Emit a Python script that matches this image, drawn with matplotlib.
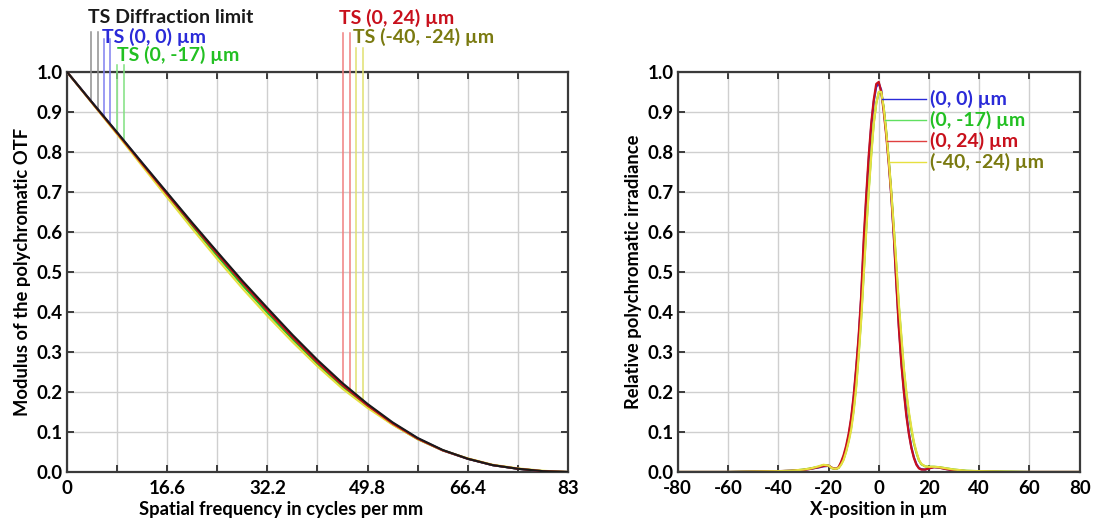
import numpy as np
import matplotlib
matplotlib.use("Agg")
import matplotlib.pyplot as plt

# ---- MTF data (left) ----
freq = [0, 4.15, 8.3, 12.45, 16.6, 20.75, 24.9, 29.05, 33.2, 37.35, 41.5,
        45.65, 49.8, 53.95, 58.1, 62.25, 66.4, 70.55, 74.7, 78.85, 83]
mtf_diff = [1.0, 0.924, 0.849, 0.773, 0.698, 0.623, 0.550, 0.478, 0.410, 0.343, 0.280,
            0.222, 0.170, 0.124, 0.085, 0.055, 0.033, 0.017, 0.008, 0.002, 0.0]
mtf_00 = [1.0, 0.924, 0.848, 0.772, 0.696, 0.621, 0.548, 0.476, 0.407, 0.340, 0.277,
          0.219, 0.168, 0.122, 0.084, 0.054, 0.033, 0.017, 0.008, 0.002, 0.0]
mtf_0m17 = [1.0, 0.923, 0.846, 0.768, 0.691, 0.615, 0.540, 0.467, 0.398, 0.332, 0.270,
            0.213, 0.163, 0.119, 0.082, 0.054, 0.033, 0.017, 0.008, 0.002, 0.0]
mtf_024 = [1.0, 0.923, 0.847, 0.770, 0.694, 0.619, 0.545, 0.473, 0.404, 0.337, 0.274,
           0.217, 0.166, 0.121, 0.083, 0.054, 0.033, 0.017, 0.008, 0.002, 0.0]
mtf_m40m24 = [1.0, 0.922, 0.844, 0.765, 0.686, 0.608, 0.532, 0.459, 0.390, 0.325, 0.264,
              0.208, 0.160, 0.118, 0.082, 0.054, 0.034, 0.018, 0.009, 0.003, 0.0]

freq_ticks = [0, 8.3, 16.6, 24.9, 33.2, 41.5, 49.8, 58.1, 66.4, 74.7, 83]
freq_ticklabels = ["0", "", "16.6", "", "32.2", "", "49.8", "", "66.4", "", "83"]

# marker line positions (cycles/mm) for each field
mark_diff = [4.0, 5.1]
mark_00 = [6.1, 7.2]
mark_0m17 = [8.3, 9.4]
mark_024 = [45.7, 46.9]
mark_m40m24 = [47.8, 49.0]

# ---- PSF data (right) ----
xpos = [-80, -60, -50, -40, -35, -30, -27, -24, -22, -20, -18.5, -17, -16, -15, -14,
        -13, -12, -11, -10, -9, -8, -7, -6, -5, -4, -3, -2, -1, 0, 1, 2, 3, 4, 5, 6,
        7, 8, 9, 10, 11, 12, 13, 14, 15, 16, 17, 18.5, 20, 22, 24, 27, 30, 35, 40,
        50, 60, 80]
psf_00 = [0, 0, 0.001, 0.002, 0.003, 0.005, 0.008, 0.011, 0.014, 0.015, 0.010, 0.008,
          0.011, 0.022, 0.038, 0.060, 0.090, 0.130, 0.185, 0.255, 0.335, 0.435, 0.565,
          0.680, 0.780, 0.865, 0.925, 0.962, 0.972, 0.955, 0.905, 0.845, 0.775, 0.690,
          0.590, 0.475, 0.365, 0.275, 0.205, 0.145, 0.098, 0.062, 0.037, 0.020, 0.010,
          0.007, 0.006, 0.009, 0.012, 0.011, 0.007, 0.004, 0.002, 0.001, 0, 0, 0]
psf_0m17 = [0, 0, 0.001, 0.002, 0.003, 0.006, 0.009, 0.013, 0.017, 0.016, 0.009, 0.008,
            0.010, 0.019, 0.032, 0.052, 0.078, 0.110, 0.155, 0.215, 0.295, 0.385, 0.495,
            0.605, 0.705, 0.795, 0.872, 0.922, 0.948, 0.948, 0.910, 0.850, 0.780, 0.700,
            0.610, 0.515, 0.415, 0.335, 0.255, 0.195, 0.145, 0.105, 0.072, 0.048, 0.029,
            0.019, 0.014, 0.013, 0.013, 0.012, 0.009, 0.006, 0.003, 0.002, 0.001, 0, 0]
psf_024 = [0, 0, 0.001, 0.002, 0.003, 0.005, 0.008, 0.012, 0.015, 0.016, 0.010, 0.008,
           0.012, 0.025, 0.042, 0.065, 0.095, 0.135, 0.190, 0.260, 0.340, 0.440, 0.580,
           0.690, 0.790, 0.870, 0.930, 0.970, 0.975, 0.950, 0.900, 0.840, 0.770, 0.690,
           0.590, 0.470, 0.360, 0.270, 0.200, 0.140, 0.095, 0.060, 0.035, 0.018, 0.009,
           0.006, 0.006, 0.009, 0.012, 0.011, 0.007, 0.004, 0.002, 0.001, 0, 0, 0]
psf_m40m24 = [0, 0, 0.001, 0.002, 0.003, 0.006, 0.009, 0.014, 0.018, 0.016, 0.009, 0.008,
              0.010, 0.018, 0.030, 0.050, 0.075, 0.105, 0.150, 0.210, 0.290, 0.380, 0.490,
              0.600, 0.700, 0.790, 0.870, 0.920, 0.950, 0.950, 0.910, 0.850, 0.780, 0.700,
              0.610, 0.520, 0.420, 0.340, 0.260, 0.200, 0.150, 0.110, 0.075, 0.050, 0.030,
              0.020, 0.014, 0.013, 0.013, 0.012, 0.009, 0.006, 0.003, 0.002, 0.001, 0, 0]

# label heights on the right plot
psf_label_levels = [0.932, 0.879, 0.827, 0.774]

plt.rcParams['font.family'] = ["Lato", "DejaVu Sans"]
plt.rcParams['font.weight'] = 'bold'
plt.rcParams['font.size'] = 12
plt.rcParams['axes.unicode_minus'] = False

C_BLACK = "#1a1a1a"
C_BLUE = "#2a2ad8"
C_GREEN = "#22c022"
C_RED = "#c8101c"
C_YEL = "#e6e040"
C_OLIVE = "#7a7a10"
GRID = "#cfcfcf"
SPINE = "#3a3a3a"


def style_axes(ax):
    for s in ax.spines.values():
        s.set_color(SPINE)
        s.set_linewidth(1.6)
    ax.tick_params(direction='in', length=5, width=1.4, color=SPINE,
                   top=True, right=True, labelsize=13.5, pad=3)
    ax.tick_params(axis='x', pad=6)
    ax.grid(True, color=GRID, linewidth=1.0)
    ax.set_axisbelow(True)
    for t in ax.get_xticklabels() + ax.get_yticklabels():
        t.set_fontweight('bold')


fig = plt.figure(figsize=(10.95, 5.25), dpi=100)

# ---------------- left: MTF ----------------
ax1 = fig.add_axes([0.0612, 0.101, 0.4575, 0.762])
series = [
    (mtf_m40m24, C_YEL, "#e0e070", mark_m40m24, 1.059),
    (mtf_0m17, C_GREEN, "#80e080", mark_0m17, 1.0175),
    (mtf_00, C_BLUE, "#8080f0", mark_00, 1.082),
    (mtf_024, C_RED, "#f08080", mark_024, 1.097),
    (mtf_diff, C_BLACK, "#909090", mark_diff, 1.099),
]
for vals, col, mcol, marks, top in series:
    for m in marks:
        ax1.plot([m, m], [np.interp(m, freq, vals), top], color=mcol,
                 lw=1.1, clip_on=False, zorder=3)
for vals, col, mcol, marks, top in [series[1], series[2], series[0], series[3], series[4]]:
    ax1.plot(freq, vals, color=col, lw=1.5, zorder=4)

ax1.set_xlim(0, 83)
ax1.set_ylim(0, 1.0)
ax1.set_xticks(freq_ticks)
ax1.set_xticklabels(freq_ticklabels)
ax1.set_yticks(np.arange(0, 1.01, 0.1))
ax1.set_yticklabels([f"{v:.1f}" for v in np.arange(0, 1.01, 0.1)])
style_axes(ax1)
ax1.set_xlabel("Spatial frequency in cycles per mm", fontsize=13.2,
               fontweight='bold')
ax1.xaxis.set_label_coords(0.427, -0.072)
ax1.set_ylabel("Modulus of the polychromatic OTF", fontsize=13.2,
               fontweight='bold', labelpad=4)

lbl_kw = dict(fontsize=14, fontweight='bold', va='center', ha='left', clip_on=False)
ax1.text(3.4, 1.135, "TS Diffraction limit", color=C_BLACK, **lbl_kw)
ax1.text(5.8, 1.088, "TS (0, 0) µm", color=C_BLUE, **lbl_kw)
ax1.text(8.3, 1.043, "TS (0, -17) µm", color=C_GREEN, **lbl_kw)
ax1.text(45.0, 1.135, "TS (0, 24) µm", color=C_RED, **lbl_kw)
ax1.text(47.3, 1.088, "TS (-40, -24) µm", color=C_OLIVE, **lbl_kw)

# ---------------- right: PSF ----------------
ax2 = fig.add_axes([0.619, 0.101, 0.367, 0.762])
ax2.plot(xpos, psf_00, color=C_BLUE, lw=1.5)
ax2.plot(xpos, psf_0m17, color=C_GREEN, lw=1.5)
ax2.plot(xpos, psf_024, color=C_RED, lw=1.6)
ax2.plot(xpos, psf_m40m24, color=C_YEL, lw=1.6)
ax2.set_xlim(-80, 80)
ax2.set_ylim(0, 1.0)
ax2.set_xticks(np.arange(-80, 81, 20))
ax2.set_yticks(np.arange(0, 1.01, 0.1))
ax2.set_yticklabels([f"{v:.1f}" for v in np.arange(0, 1.01, 0.1)])
style_axes(ax2)
ax2.set_xlabel("X-position in µm", fontsize=13.2, fontweight='bold')
ax2.xaxis.set_label_coords(0.5, -0.072)
ax2.set_ylabel("Relative polychromatic irradiance", fontsize=13.2,
               fontweight='bold', labelpad=4)

psf_series = [(psf_00, C_BLUE, C_BLUE, "(0, 0) µm"),
              (psf_0m17, "#60e060", C_GREEN, "(0, -17) µm"),
              (psf_024, "#e04040", C_RED, "(0, 24) µm"),
              (psf_m40m24, C_YEL, C_OLIVE, "(-40, -24) µm")]
xr = np.array(xpos)
for (vals, lcol, tcol, name), lev in zip(psf_series, psf_label_levels):
    v = np.array(vals)
    right = xr >= 0
    x0 = np.interp(lev, v[right][::-1], xr[right][::-1])
    ax2.plot([x0, 19.0], [lev, lev], color=lcol, lw=1.0)
    ax2.text(20.5, lev, name, color=tcol, fontsize=14, fontweight='bold',
             va='center', ha='left')

fig.savefig("out.png", dpi=100)
